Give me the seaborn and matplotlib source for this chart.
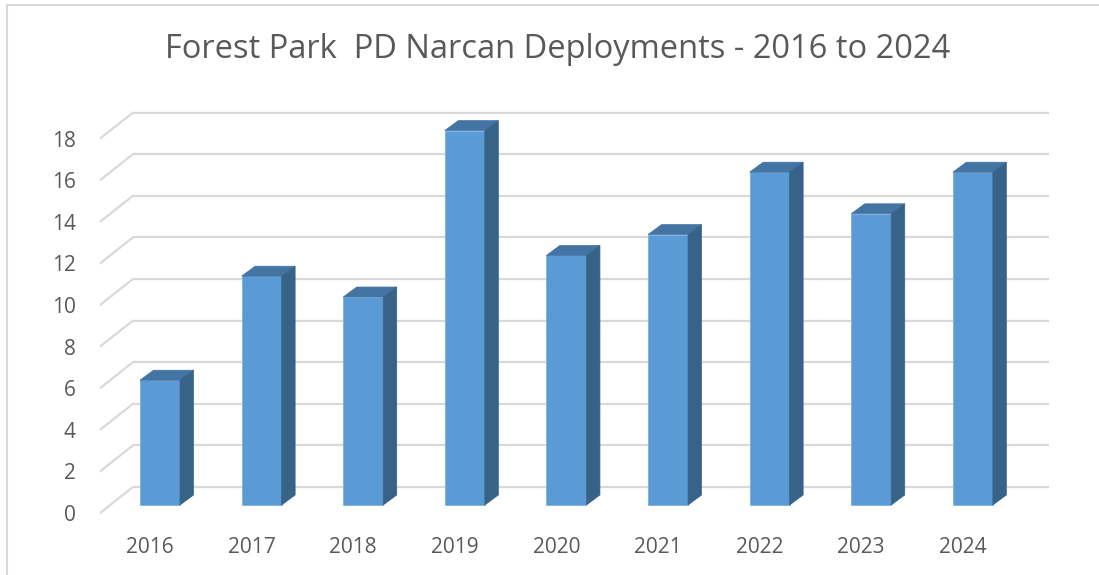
import matplotlib
matplotlib.use("Agg")
import matplotlib.pyplot as plt
import seaborn as sns
import pandas as pd
from matplotlib.patches import Polygon, Rectangle

years = ["2016", "2017", "2018", "2019", "2020", "2021", "2022", "2023", "2024"]
deployments = [6, 11, 10, 18, 12, 13, 16, 14, 16]
y_ticks = [0, 2, 4, 6, 8, 10, 12, 14, 16, 18]
title = "Forest Park  PD Narcan Deployments - 2016 to 2024"

sns.set_style("white")
plt.rcParams['font.family'] = ['Open Sans', 'DejaVu Sans']

W, H = 1099, 575
fig = plt.figure(figsize=(W / 100, H / 100), dpi=100)

# figure border (light gray)
fig.patches.append(Rectangle((7 / W, -0.1), 1.2, (H - 5) / H + 0.1, transform=fig.transFigure,
                             fill=False, edgecolor="#D9D9D9", linewidth=1.5))

# axes in pixel layout: left 100, right 1060, top 100, bottom 520
ax = fig.add_axes([100 / W, (H - 520) / H, 960 / W, 420 / H])

df = pd.DataFrame({"year": years, "n": deployments})
sns.barplot(data=df, x="year", y="n", color="#5B9BD5", width=0.394, ax=ax,
            saturation=1, edgecolor="#7DB0DE", linewidth=0.6, zorder=3)
ax.set_xlim(-0.5906, 8.858)
ax.set_ylim(-0.721, 19.47)
ax.axis("off")

grid_c = "#D9D9D9"
back_dy = 0.865
front_dy = -0.385
x_front, x_back, x_end = -0.5906, -0.266, 8.75
for v in y_ticks:
    ax.plot([x_back, x_end], [v + back_dy, v + back_dy], color=grid_c, lw=1.6, zorder=0,
            solid_capstyle="butt")
    ax.plot([x_front, x_back], [v + front_dy, v + back_dy], color=grid_c, lw=1.6, zorder=0)
    ax.text(-0.827, v + front_dy - 0.12, str(v), ha="right", va="center", fontsize=15,
            color="#595959", clip_on=False)

# 3D faces of bars
ddx, ddy = 0.133, 0.48
for p in ax.patches:
    x0 = p.get_x()
    w = p.get_width()
    h = p.get_height()
    x1 = x0 + w
    top = Polygon([(x0, h), (x1, h), (x1 + ddx, h + ddy), (x0 + ddx, h + ddy)],
                  closed=True, facecolor="#4374A4", edgecolor="#4374A4", lw=0.5, zorder=3)
    side = Polygon([(x1, 0), (x1 + ddx, ddy), (x1 + ddx, h + ddy), (x1, h)],
                   closed=True, facecolor="#386389", edgecolor="#386389", lw=0.5, zorder=3)
    ax.add_patch(top)
    ax.add_patch(side)

for i, yr in enumerate(years):
    ax.text(i - 0.1, -2.03, yr, ha="center", va="center", fontsize=15,
            color="#595959", clip_on=False)

fig.text(557.5 / W, 1 - 49 / H, title, ha="center", va="center", fontsize=23.5,
         color="#595959")

fig.savefig("out.png", dpi=100)
